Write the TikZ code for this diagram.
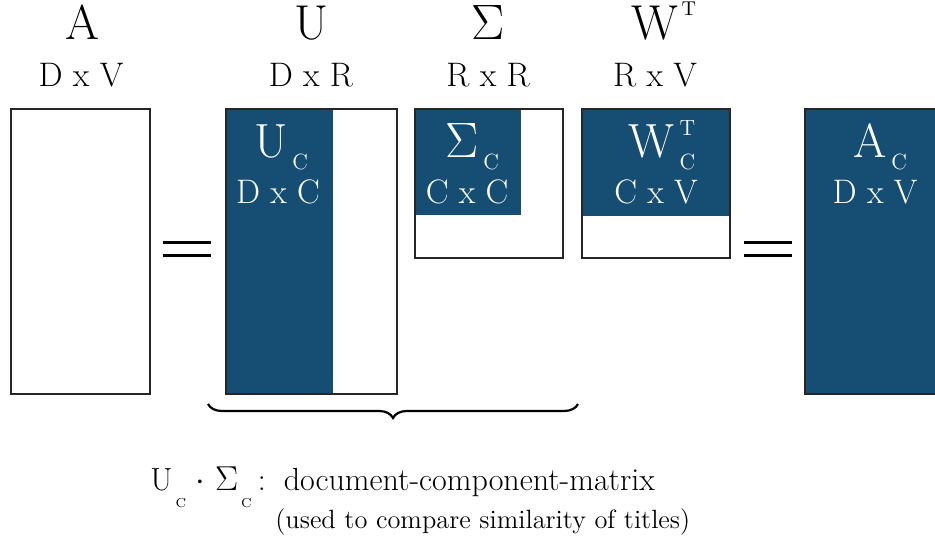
\documentclass[tikz,border=0pt]{standalone}
\usepackage{amsmath}
\usetikzlibrary{decorations.pathreplacing}

\definecolor{svdblue}{RGB}{22,77,114}
\newcommand{\bigsz}{\fontsize{24.5}{28}\selectfont}
\newcommand{\insz}{\fontsize{24}{28}\selectfont}
\newcommand{\dimsz}{\fontsize{17}{20}\selectfont}
\newcommand{\idxsz}{\fontsize{11}{17}\selectfont}
\newcommand{\lowC}{\kern2.5pt\raisebox{-6pt}{\idxsz C}}
\newcommand{\tinyC}{\kern1.5pt\raisebox{-8.5pt}{\fontsize{6.5}{7}\selectfont C}}

\begin{document}
\begin{tikzpicture}
[x=0.5pt, y=-0.5pt, inner sep=0pt,
mat/.style={draw=black!85, line width=0.6pt},
part/.style={fill=svdblue},
big/.style={anchor=base, font=\bigsz},
dims/.style={anchor=base, font=\dimsz},
inbig/.style={anchor=base, font=\insz, text=white},
indims/.style={anchor=base, font=\dimsz, text=white},
eqbar/.style={line width=1.5pt}]
\useasboundingbox (0,0) rectangle (935,539);

% titles
\node[big] (tA) at (82,40) {A};
\node[dims] (dA) at (81,87) {D x V};
\node[big] (tU) at (311,40) {U};
\node[dims] (dU) at (311,87) {D x R};
\node[big] (tS) at (488,40) {$\Sigma$};
\node[dims] (dS) at (488,87) {R x R};
\node[big] (tW) at (664,40) {W\kern1.5pt\raisebox{12pt}{\fontsize{10}{10}\selectfont T}};
\node[dims] (dW) at (655,87) {R x V};

% matrices
\draw[mat] (11,109) rectangle (150,394);
\fill[part] (226,109) rectangle (333,394);
\draw[mat] (226,109) rectangle (397,394);
\fill[part] (415,109) rectangle (521,215);
\draw[mat] (415,109) rectangle (563,258);
\fill[part] (582,109) rectangle (730,216);
\draw[mat] (582,109) rectangle (730,258);
\draw[mat, part] (805,109) rectangle (945,394);

% labels inside
\node[inbig] (iU) at (281,158) {U\lowC};
\node[indims] (iUd) at (278,204) {D x C};
\node[inbig] (iS) at (472,158) {$\Sigma$\lowC};
\node[indims] (iSd) at (467,204) {C x C};
\node[inbig] (iW) at (662,158)
  {W\kern2.5pt\raisebox{-6pt}{\idxsz\begin{tabular}[b]{@{}c@{}}T\\C\end{tabular}}};
\node[indims] (iWd) at (656,204) {C x V};
\node[inbig] (iA) at (880,158) {A\lowC};
\node[indims] (iAd) at (875,204) {D x V};

% equals signs
\draw[eqbar] (163,243) -- (211,243) (163,256) -- (211,256);
\draw[eqbar] (744,243) -- (792,243) (744,256) -- (792,256);

% brace under U and Sigma
\coordinate (brL) at (208,404);
\coordinate (brR) at (578,404);
\draw[decorate, decoration={brace, mirror, amplitude=7pt}, line width=1.1pt] (brL) -- (brR);

\node[anchor=base west, font=\fontsize{16}{19}\selectfont] (note) at (150,490)
  {U\tinyC\ $\cdot$ $\Sigma$\tinyC\hspace{3pt}:\hspace{9pt}document-component-matrix};
\node[anchor=base west, font=\fontsize{13.2}{16}\selectfont] (use) at (275,528)
  {(used to compare similarity of titles)};
\end{tikzpicture}
\end{document}
